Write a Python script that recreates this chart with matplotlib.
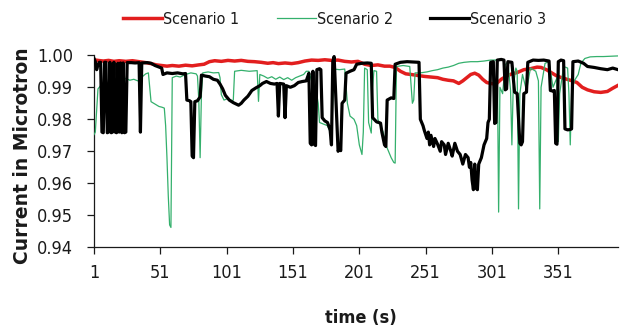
import matplotlib
matplotlib.use("Agg")
import matplotlib.pyplot as plt
from matplotlib import font_manager

# ---- data: (time, current) vertices for each scenario ----
s1_t = [1, 4, 8, 12, 16, 20, 25, 30, 35, 40, 44, 48, 52, 56, 60, 65, 70, 75, 80, 84, 88, 92, 97,
        102, 107, 112, 117, 122, 127, 132, 136, 140, 145, 150, 155, 160, 165, 170, 175, 180, 185,
        190, 195, 200, 205, 210, 215, 220, 224, 228, 232, 236, 240, 245, 250, 255, 260, 264, 268,
        272, 276, 279, 282, 285, 288, 291, 294, 297, 300, 304, 308, 312, 316, 320, 325, 330, 335,
        338, 342, 346, 350, 355, 360, 365, 369, 373, 378, 383, 388, 392, 396]
s1_v = [0.9986, 0.9984, 0.9982, 0.9984, 0.9981, 0.9983, 0.9981, 0.9983, 0.9980, 0.9977, 0.9974,
        0.9970, 0.9968, 0.9966, 0.9968, 0.9966, 0.9969, 0.9967, 0.9970, 0.9972, 0.9980, 0.9983,
        0.9981, 0.9984, 0.9982, 0.9984, 0.9981, 0.9980, 0.9978, 0.9975, 0.9977, 0.9974, 0.9976,
        0.9974, 0.9977, 0.9982, 0.9985, 0.9984, 0.9986, 0.9984, 0.9985, 0.9981, 0.9979, 0.9981,
        0.9972, 0.9968, 0.9970, 0.9966, 0.9966, 0.9962, 0.9950, 0.9942, 0.9940, 0.9937, 0.9934,
        0.9932, 0.9930, 0.9925, 0.9922, 0.9920, 0.9912, 0.9920, 0.9930, 0.9940, 0.9944, 0.9938,
        0.9925, 0.9915, 0.9912, 0.9910, 0.9925, 0.9935, 0.9942, 0.9946, 0.9955, 0.9958, 0.9963,
        0.9962, 0.9955, 0.9945, 0.9935, 0.9928, 0.9922, 0.9915, 0.9900, 0.9892, 0.9886, 0.9884,
        0.9887, 0.9897, 0.9906]

s2_t = [1, 2, 3, 4, 6, 8, 10, 12, 14, 16, 18, 20, 22, 25, 28, 31, 34, 36, 38, 40, 42, 43, 44, 46,
        48, 50, 52, 54, 55, 56, 57, 58, 59, 60, 63, 66, 70, 74, 78, 79, 80, 81, 82, 83, 87, 91, 95,
        96, 97, 99, 102, 105, 106, 107, 112, 118, 124, 125, 126, 129, 132, 135, 138, 141, 144, 147,
        150, 153, 156, 159, 161, 163, 165, 168, 170, 171, 174, 177, 179, 180, 181, 182, 186, 190,
        192, 194, 197, 199, 201, 203, 204, 205, 207, 208, 210, 211, 212, 214, 215, 217, 219, 221,
        223, 225, 227, 228, 229, 234, 239, 241, 242, 243, 247, 252, 256, 260, 264, 268, 272, 276,
        280, 285, 290, 295, 300, 305, 306, 307, 309, 311, 313, 315, 316, 317, 319, 320, 321, 322,
        324, 327, 330, 334, 336, 337, 338, 341, 344, 347, 350, 351, 352, 355, 358, 359, 360, 361,
        363, 366, 368, 371, 375, 380, 385, 390, 396]
s2_v = [0.9752, 0.9760, 0.9830, 0.9895, 0.9905, 0.9912, 0.9905, 0.9915, 0.9910, 0.9918, 0.9925,
        0.9918, 0.9922, 0.9928, 0.9922, 0.9925, 0.9920, 0.9928, 0.9935, 0.9942, 0.9945, 0.9900,
        0.9855, 0.9850, 0.9845, 0.9840, 0.9838, 0.9835, 0.9780, 0.9680, 0.9560, 0.9470, 0.9462,
        0.9930, 0.9935, 0.9932, 0.9940, 0.9945, 0.9942, 0.9935, 0.9860, 0.9680, 0.9880, 0.9945,
        0.9948, 0.9945, 0.9946, 0.9930, 0.9877, 0.9860, 0.9865, 0.9858, 0.9860, 0.9950, 0.9953,
        0.9950, 0.9952, 0.9856, 0.9940, 0.9935, 0.9928, 0.9933, 0.9925, 0.9932, 0.9924, 0.9930,
        0.9922, 0.9930, 0.9935, 0.9940, 0.9950, 0.9950, 0.9920, 0.9900, 0.9850, 0.9790, 0.9785,
        0.9780, 0.9760, 0.9735, 0.9860, 0.9957, 0.9955, 0.9957, 0.9850, 0.9810, 0.9800, 0.9780,
        0.9720, 0.9690, 0.9760, 0.9960, 0.9955, 0.9790, 0.9757, 0.9900, 0.9952, 0.9950, 0.9800,
        0.9780, 0.9760, 0.9720, 0.9700, 0.9680, 0.9665, 0.9663, 0.9965, 0.9968, 0.9965, 0.9850,
        0.9860, 0.9945, 0.9945, 0.9948, 0.9952, 0.9955, 0.9960, 0.9963, 0.9968, 0.9975, 0.9978,
        0.9980, 0.9980, 0.9982, 0.9985, 0.9985, 0.9510, 0.9900, 0.9880, 0.9970, 0.9980, 0.9890,
        0.9720, 0.9900, 0.9960, 0.9950, 0.9520, 0.9880, 0.9940, 0.9890, 0.9960, 0.9950, 0.9920,
        0.9520, 0.9900, 0.9975, 0.9980, 0.9900, 0.9930, 0.9730, 0.9880, 0.9965, 0.9960, 0.9880,
        0.9720, 0.9880, 0.9920, 0.9940, 0.9975, 0.9990, 0.9995, 0.9996, 0.9996, 0.9997, 0.9998]

s3_t = [1, 2, 3, 4, 5, 6, 7, 8, 9, 10, 11, 12, 13, 14, 15, 16, 17, 18, 19, 20, 21, 22, 23, 24, 25,
        26, 29, 32, 35, 36, 37, 41, 44, 47, 50, 52, 53, 56, 60, 64, 68, 70, 71, 73, 74, 75, 76, 77,
        79, 81, 82, 85, 88, 91, 94, 96, 98, 100, 103, 106, 108, 110, 112, 114, 117, 120, 123, 126,
        128, 131, 134, 137, 139, 140, 141, 144, 145, 146, 149, 152, 155, 158, 161, 163, 164, 165,
        166, 167, 168, 169, 171, 172, 173, 175, 177, 179, 180, 181, 182, 183, 184, 185, 186, 187,
        188, 190, 191, 194, 197, 199, 203, 207, 210, 211, 214, 217, 218, 220, 221, 222, 225, 227,
        228, 232, 237, 242, 246, 247, 249, 250, 252, 253, 254, 255, 257, 258, 260, 262, 263, 265,
        266, 268, 270, 271, 273, 275, 277, 279, 281, 283, 284, 285, 286, 287, 288, 289, 290, 291,
        293, 295, 297, 298, 299, 300, 302, 303, 304, 305, 308, 310, 311, 312, 313, 316, 318, 320,
        322, 323, 324, 325, 327, 328, 332, 336, 340, 344, 345, 347, 348, 349, 350, 351, 353, 355,
        356, 358, 360, 361, 362, 366, 370, 373, 378, 383, 388, 392, 396]
s3_v = [0.9990, 0.9980, 0.9955, 0.9970, 0.9978, 0.9978, 0.9760, 0.9758, 0.9978, 0.9978, 0.9758,
        0.9760, 0.9978, 0.9758, 0.9760, 0.9978, 0.9760, 0.9758, 0.9975, 0.9760, 0.9976, 0.9758,
        0.9976, 0.9758, 0.9760, 0.9977, 0.9977, 0.9976, 0.9977, 0.9760, 0.9976, 0.9977, 0.9975,
        0.9968, 0.9963, 0.9960, 0.9940, 0.9945, 0.9943, 0.9945, 0.9942, 0.9943, 0.9860, 0.9858,
        0.9855, 0.9685, 0.9680, 0.9855, 0.9858, 0.9870, 0.9938, 0.9935, 0.9933, 0.9925, 0.9922,
        0.9910, 0.9895, 0.9875, 0.9860, 0.9852, 0.9848, 0.9844, 0.9850, 0.9860, 0.9872, 0.9890,
        0.9898, 0.9905, 0.9912, 0.9918, 0.9912, 0.9910, 0.9912, 0.9810, 0.9912, 0.9910, 0.9805,
        0.9905, 0.9900, 0.9905, 0.9915, 0.9918, 0.9920, 0.9944, 0.9725, 0.9720, 0.9950, 0.9722,
        0.9718, 0.9955, 0.9958, 0.9955, 0.9805, 0.9795, 0.9790, 0.9767, 0.9720, 0.9980, 0.9996,
        0.9900, 0.9800, 0.9700, 0.9710, 0.9702, 0.9850, 0.9860, 0.9944, 0.9950, 0.9955, 0.9972,
        0.9975, 0.9976, 0.9975, 0.9805, 0.9792, 0.9788, 0.9760, 0.9720, 0.9715, 0.9860, 0.9867,
        0.9865, 0.9972, 0.9978, 0.9980, 0.9979, 0.9978, 0.9800, 0.9780, 0.9765, 0.9740, 0.9760,
        0.9720, 0.9750, 0.9715, 0.9740, 0.9722, 0.9700, 0.9730, 0.9720, 0.9690, 0.9725, 0.9700,
        0.9685, 0.9725, 0.9700, 0.9690, 0.9660, 0.9690, 0.9680, 0.9650, 0.9665, 0.9610, 0.9580,
        0.9660, 0.9585, 0.9580, 0.9660, 0.9680, 0.9720, 0.9740, 0.9790, 0.9800, 0.9978, 0.9980,
        0.9787, 0.9790, 0.9985, 0.9987, 0.9985, 0.9892, 0.9895, 0.9980, 0.9978, 0.9885, 0.9880,
        0.9725, 0.9720, 0.9730, 0.9880, 0.9885, 0.9978, 0.9985, 0.9984, 0.9985, 0.9982, 0.9890,
        0.9888, 0.9890, 0.9725, 0.9722, 0.9980, 0.9985, 0.9983, 0.9770, 0.9767, 0.9768, 0.9770,
        0.9980, 0.9982, 0.9975, 0.9965, 0.9962, 0.9958, 0.9955, 0.9960, 0.9955]

series_names = ["Scenario 1", "Scenario 2", "Scenario 3"]
x_ticks = [1, 51, 101, 151, 201, 251, 301, 351]
y_ticks = [0.94, 0.95, 0.96, 0.97, 0.98, 0.99, 1.00]

# ---- pick a narrow sans face if one is installed, else Liberation Sans ----
entries = font_manager.fontManager.ttflist
narrow = None
for f in entries:
    if f.stretch in ("condensed", "semi-condensed") and f.name in (
            "DejaVu Sans", "Noto Sans", "Open Sans", "Roboto", "Liberation Sans"):
        narrow = (f.name, f.stretch)
        break
if narrow is None:
    for f in entries:
        if "Narrow" in f.name or "Condensed" in f.name:
            narrow = (f.name, "normal")
            break
if narrow is None:
    face, stretch, scale = "Liberation Sans", "normal", 0.88
else:
    face, stretch, scale = narrow[0], narrow[1], 1.0

tick_size = 13.0 * scale
legend_size = 11.5 * scale
xlabel_size = 13.0 * scale

plt.rcParams["font.family"] = [face, "DejaVu Sans"]
plt.rcParams["font.stretch"] = stretch

fig = plt.figure(figsize=(6.2, 3.34), dpi=100)
ax = fig.add_axes([0.1516, 0.2596, 0.8452, 0.5749])

ax.plot(s1_t, s1_v, color="#E21E1E", lw=2.5, solid_joinstyle="round",
        label=series_names[0], zorder=2)
ax.plot(s2_t, s2_v, color="#34B06C", lw=0.9, solid_joinstyle="round",
        label=series_names[1], zorder=3)
ax.plot(s3_t, s3_v, color="#000000", lw=2.3, solid_joinstyle="round",
        label=series_names[2], zorder=4)

ax.set_xlim(1, 396)
ax.set_ylim(0.94, 1.00)
ax.set_xticks(x_ticks)
ax.set_xticklabels([str(v) for v in x_ticks])
ax.set_yticks(y_ticks)
ax.set_yticklabels([f"{v:.2f}" for v in y_ticks])

for side in ("top", "right"):
    ax.spines[side].set_visible(False)
for side in ("left", "bottom"):
    ax.spines[side].set_color("#1a1a1a")
    ax.spines[side].set_linewidth(0.9)

ax.tick_params(axis="both", direction="out", length=5, width=0.9, color="#1a1a1a",
               labelsize=tick_size, labelcolor="#1a1a1a")
ax.tick_params(axis="x", pad=7)
ax.tick_params(axis="y", pad=10)

leg = fig.legend(loc="center", bbox_to_anchor=(0.54, 0.943), ncol=3, frameon=False,
                 fontsize=legend_size, handlelength=2.45, handletextpad=0.05,
                 columnspacing=2.35)
for txt in leg.get_texts():
    txt.set_color("#1a1a1a")

fig.text(0.582, 0.048, "time (s)", ha="center", va="center", fontsize=xlabel_size,
         fontweight="bold", color="#1a1a1a")
fig.text(0.036, 0.533, "Current in Microtron", ha="center", va="center", rotation=90,
         fontsize=13.5, fontweight="bold", family=["DejaVu Sans"], stretch="normal",
         color="#1a1a1a")

fig.savefig("out.png", dpi=100)
